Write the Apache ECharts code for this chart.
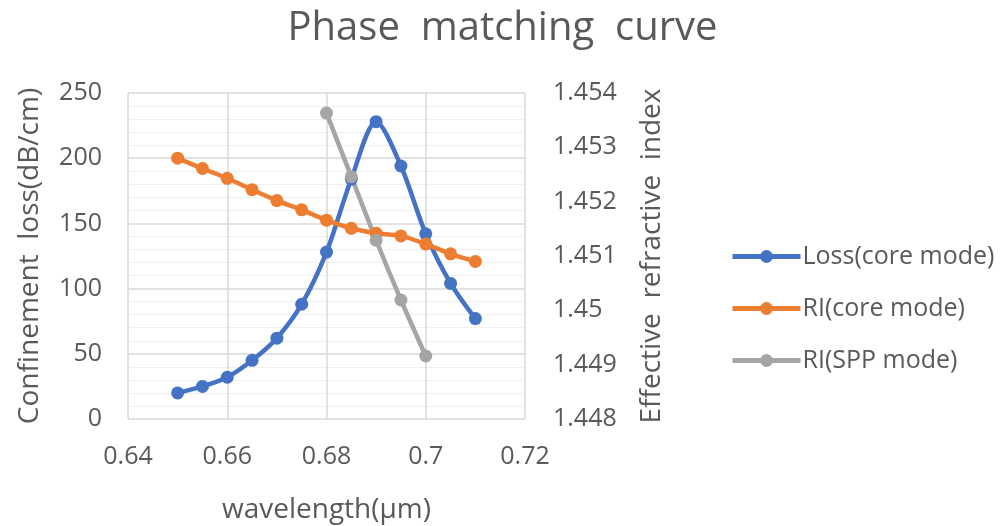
<!DOCTYPE html>
<html>
<head>
    <meta charset="utf-8">
    <title>ECharts</title>
    <script src="https://cdn.jsdelivr.net/npm/echarts@6/dist/echarts.min.js"></script>
</head>
<body style="margin:0;background:#fff;">
    <div id="main" style="width: 1005px;height:526px;"></div>
    <script type="text/javascript">
        // wavelength (um)
        var wavelength = [0.65, 0.655, 0.66, 0.665, 0.67, 0.675, 0.68, 0.685, 0.69, 0.695, 0.70, 0.705, 0.71];
        var wavelengthSpp = [0.68, 0.685, 0.69, 0.695, 0.70];
        // confinement loss of core mode (dB/cm)
        var lossCore = [20, 25, 32, 45, 62, 88, 128, 184, 228, 194, 142, 104, 77];
        // effective refractive index
        var riCore = [1.4528, 1.45261, 1.45243, 1.45222, 1.45202, 1.45185, 1.45166, 1.45151, 1.45142, 1.45137, 1.45122, 1.45104, 1.4509];
        var riSpp = [1.45363, 1.45246, 1.45129, 1.45019, 1.44916];

        var xTicks = { min: 0.64, max: 0.72, interval: 0.02 };
        var leftTicks = { min: 0, max: 250, interval: 50 };
        var rightTicks = { min: 1.448, max: 1.454, interval: 0.001 };

        function pairs(xs, ys) {
            var out = [];
            for (var i = 0; i < xs.length; i++) {
                out.push([xs[i], ys[i]]);
            }
            return out;
        }

        var font = 'Open Sans';
        var grey = '#595959';

        var option = {
            backgroundColor: '#fff',
            textStyle: { fontFamily: font },
            title: {
                text: 'Phase  matching  curve',
                left: 'center',
                top: 4,
                textStyle: { fontFamily: font, fontSize: 40, fontWeight: 'normal', color: grey }
            },
            legend: {
                orient: 'vertical',
                left: 725,
                top: 239,
                itemWidth: 68,
                itemHeight: 16,
                itemGap: 27,
                lineStyle: { width: 5 },
                textStyle: { fontFamily: font, fontSize: 25, color: grey, padding: [0, 0, 0, -3] },
                data: ['Loss(core mode)', 'RI(core mode)', 'RI(SPP mode)']
            },
            grid: { left: 128, right: 480, top: 93, bottom: 107, containLabel: false, outerBoundsMode: 'none' },
            xAxis: {
                type: 'value',
                min: xTicks.min,
                max: xTicks.max,
                interval: xTicks.interval,
                name: 'wavelength(\u03bcm)',
                nameLocation: 'middle',
                nameGap: 77,
                nameTextStyle: { fontFamily: font, fontSize: 28, color: grey },
                axisLine: { show: false },
                axisTick: { show: false },
                axisLabel: { fontFamily: font, fontSize: 25, color: grey, margin: 25 },
                splitLine: { show: true, lineStyle: { color: '#d9d9d9', width: 1.5 } }
            },
            yAxis: [
                {
                    type: 'value',
                    position: 'left',
                    min: leftTicks.min,
                    max: leftTicks.max,
                    interval: leftTicks.interval,
                    name: 'Confinement  loss(dB/cm)',
                    nameLocation: 'middle',
                    nameRotate: 90,
                    nameGap: 84,
                    nameTextStyle: { fontFamily: font, fontSize: 28, color: grey },
                    axisLine: { show: false },
                    axisTick: { show: false },
                    axisLabel: { fontFamily: font, fontSize: 25, color: grey, margin: 26 },
                    splitLine: { show: true, lineStyle: { color: '#d9d9d9', width: 1.5 } },
                    minorTick: { show: false, splitNumber: 5 },
                    minorSplitLine: { show: true, lineStyle: { color: '#efefef', width: 1 } }
                },
                {
                    type: 'value',
                    position: 'right',
                    min: rightTicks.min,
                    max: rightTicks.max,
                    interval: rightTicks.interval,
                    name: 'Effective  refractive  index',
                    nameLocation: 'middle',
                    nameRotate: 90,
                    nameGap: 113,
                    nameTextStyle: { fontFamily: font, fontSize: 28, color: grey },
                    axisLine: { show: false },
                    axisTick: { show: false },
                    axisLabel: { fontFamily: font, fontSize: 25, color: grey, margin: 28 },
                    splitLine: { show: false }
                }
            ],
            series: [
                {
                    name: 'Loss(core mode)',
                    type: 'line',
                    yAxisIndex: 0,
                    smooth: 0.3,
                    symbol: 'circle',
                    symbolSize: 13,
                    itemStyle: { color: '#4472c4' },
                    lineStyle: { width: 4.5, color: '#4472c4' },
                    data: pairs(wavelength, lossCore)
                },
                {
                    name: 'RI(core mode)',
                    type: 'line',
                    yAxisIndex: 1,
                    smooth: 0.3,
                    symbol: 'circle',
                    symbolSize: 13,
                    itemStyle: { color: '#ed7d31' },
                    lineStyle: { width: 4.5, color: '#ed7d31' },
                    data: pairs(wavelength, riCore)
                },
                {
                    name: 'RI(SPP mode)',
                    type: 'line',
                    yAxisIndex: 1,
                    smooth: 0.3,
                    symbol: 'circle',
                    symbolSize: 13,
                    itemStyle: { color: '#a5a5a5' },
                    lineStyle: { width: 4.5, color: '#a5a5a5' },
                    data: pairs(wavelengthSpp, riSpp)
                }
            ]
        };

        var myChart = echarts.init(document.getElementById('main'));
        myChart.setOption(option);
    </script>
</body>
</html>
